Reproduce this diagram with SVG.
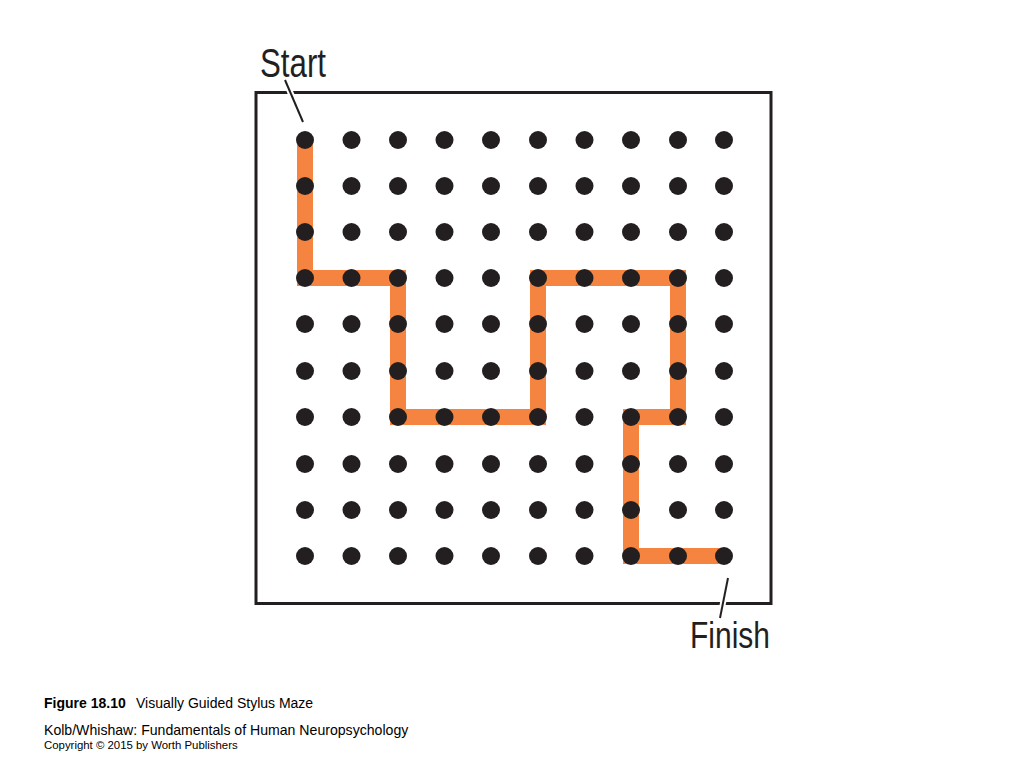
<svg xmlns="http://www.w3.org/2000/svg" width="1024" height="768" viewBox="0 0 1024 768">
<style>
.dot{fill:#231f20}
.lbl{font-family:"Liberation Sans",Arial,sans-serif;fill:#231f20}
.cap{font-family:"Liberation Sans",Arial,sans-serif;fill:#000}
</style>
<defs>
<circle id="d" r="9" class="dot"/>
</defs>
<rect width="1024" height="768" fill="#fff"/>
<g id="frame"><rect x="256" y="92.5" width="515" height="511" fill="none" stroke="#231f20" stroke-width="3"/></g>
<g id="connectors">
<path d="M305,140 V278 H398 V417 H538 V278 H678 V417 H631 V556 H726" fill="none" stroke="#f4843f" stroke-width="16" stroke-linejoin="miter" stroke-linecap="butt"/>
<line x1="285" y1="80" x2="303" y2="122" stroke="#fff" stroke-width="6"/>
<line x1="285" y1="80" x2="303" y2="122" stroke="#231f20" stroke-width="2"/>
<line x1="728" y1="578" x2="720" y2="618" stroke="#fff" stroke-width="6"/>
<line x1="728" y1="578" x2="720" y2="618" stroke="#231f20" stroke-width="2"/>
</g>
<g id="grid">
<g transform="translate(0,140)"><use href="#d" x="305"/><use href="#d" x="351.5"/><use href="#d" x="398"/><use href="#d" x="444.5"/><use href="#d" x="491"/><use href="#d" x="538"/><use href="#d" x="584.5"/><use href="#d" x="631"/><use href="#d" x="678"/><use href="#d" x="724"/></g>
<g transform="translate(0,186)"><use href="#d" x="305"/><use href="#d" x="351.5"/><use href="#d" x="398"/><use href="#d" x="444.5"/><use href="#d" x="491"/><use href="#d" x="538"/><use href="#d" x="584.5"/><use href="#d" x="631"/><use href="#d" x="678"/><use href="#d" x="724"/></g>
<g transform="translate(0,232)"><use href="#d" x="305"/><use href="#d" x="351.5"/><use href="#d" x="398"/><use href="#d" x="444.5"/><use href="#d" x="491"/><use href="#d" x="538"/><use href="#d" x="584.5"/><use href="#d" x="631"/><use href="#d" x="678"/><use href="#d" x="724"/></g>
<g transform="translate(0,278)"><use href="#d" x="305"/><use href="#d" x="351.5"/><use href="#d" x="398"/><use href="#d" x="444.5"/><use href="#d" x="491"/><use href="#d" x="538"/><use href="#d" x="584.5"/><use href="#d" x="631"/><use href="#d" x="678"/><use href="#d" x="724"/></g>
<g transform="translate(0,324)"><use href="#d" x="305"/><use href="#d" x="351.5"/><use href="#d" x="398"/><use href="#d" x="444.5"/><use href="#d" x="491"/><use href="#d" x="538"/><use href="#d" x="584.5"/><use href="#d" x="631"/><use href="#d" x="678"/><use href="#d" x="724"/></g>
<g transform="translate(0,371)"><use href="#d" x="305"/><use href="#d" x="351.5"/><use href="#d" x="398"/><use href="#d" x="444.5"/><use href="#d" x="491"/><use href="#d" x="538"/><use href="#d" x="584.5"/><use href="#d" x="631"/><use href="#d" x="678"/><use href="#d" x="724"/></g>
<g transform="translate(0,417)"><use href="#d" x="305"/><use href="#d" x="351.5"/><use href="#d" x="398"/><use href="#d" x="444.5"/><use href="#d" x="491"/><use href="#d" x="538"/><use href="#d" x="584.5"/><use href="#d" x="631"/><use href="#d" x="678"/><use href="#d" x="724"/></g>
<g transform="translate(0,464)"><use href="#d" x="305"/><use href="#d" x="351.5"/><use href="#d" x="398"/><use href="#d" x="444.5"/><use href="#d" x="491"/><use href="#d" x="538"/><use href="#d" x="584.5"/><use href="#d" x="631"/><use href="#d" x="678"/><use href="#d" x="724"/></g>
<g transform="translate(0,510)"><use href="#d" x="305"/><use href="#d" x="351.5"/><use href="#d" x="398"/><use href="#d" x="444.5"/><use href="#d" x="491"/><use href="#d" x="538"/><use href="#d" x="584.5"/><use href="#d" x="631"/><use href="#d" x="678"/><use href="#d" x="724"/></g>
<g transform="translate(0,556)"><use href="#d" x="305"/><use href="#d" x="351.5"/><use href="#d" x="398"/><use href="#d" x="444.5"/><use href="#d" x="491"/><use href="#d" x="538"/><use href="#d" x="584.5"/><use href="#d" x="631"/><use href="#d" x="678"/><use href="#d" x="724"/></g>
</g>
<g id="start"><text class="lbl" x="260" y="77" font-size="40" textLength="66" lengthAdjust="spacingAndGlyphs">Start</text></g>
<g id="finish"><text class="lbl" x="690" y="648" font-size="36" textLength="80" lengthAdjust="spacingAndGlyphs">Finish</text></g>
<g id="caption">
<text class="cap" x="44" y="708" font-size="14"><tspan font-weight="bold">Figure 18.10</tspan><tspan x="136">Visually Guided Stylus Maze</tspan></text>
<text class="cap" x="44" y="735" font-size="14.1">Kolb/Whishaw: Fundamentals of Human Neuropsychology</text>
<text class="cap" x="44" y="749" font-size="11.4">Copyright © 2015 by Worth Publishers</text>
</g>
</svg>
